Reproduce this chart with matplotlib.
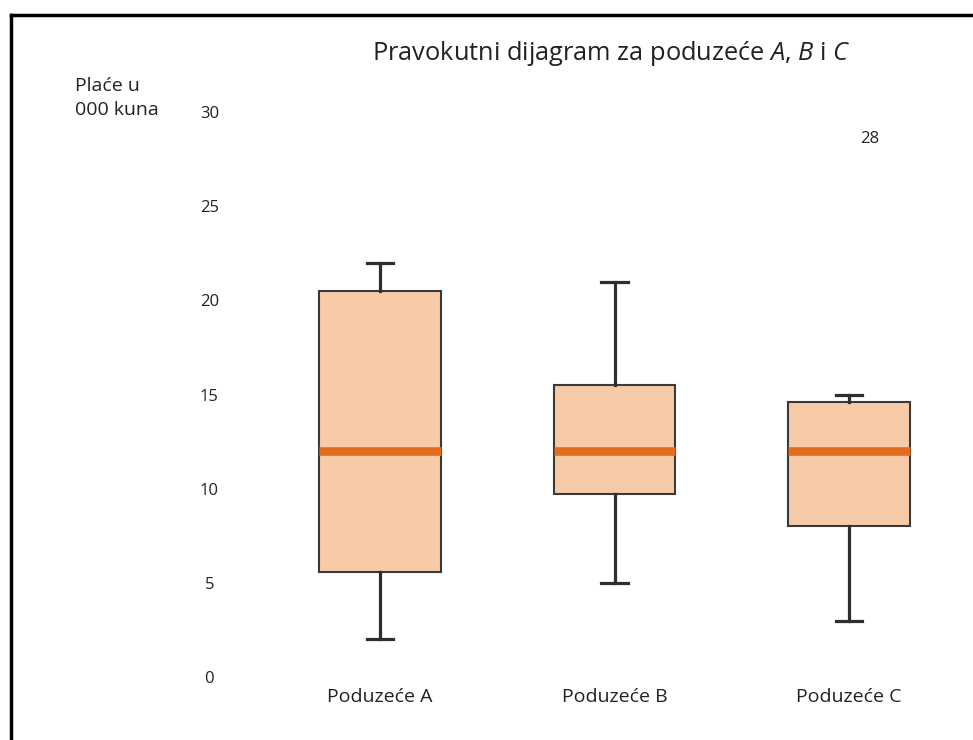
import matplotlib
matplotlib.use("Agg")
import matplotlib.pyplot as plt
from matplotlib.lines import Line2D

# ---- data ----
categories = ["Poduzeće A", "Poduzeće B", "Poduzeće C"]
q1 = [5.6, 9.7, 8.0]
medians = [12.0, 12.0, 12.0]
q3 = [20.5, 15.5, 14.6]
whis_low = [2.0, 5.0, 3.0]
whis_high = [22.0, 21.0, 15.0]
outlier_values = [None, None, 28]
yticks = [0, 5, 10, 15, 20, 25, 30]

plt.rcParams['font.family'] = ['Open Sans', 'DejaVu Sans']
plt.rcParams['mathtext.fontset'] = 'custom'
plt.rcParams['mathtext.it'] = 'Open Sans:italic'
plt.rcParams['mathtext.rm'] = 'Open Sans'

W, H = 973, 740
fig = plt.figure(figsize=(W / 100, H / 100), dpi=100)

# axes placement (pixel-based)
y0_pix, yunit = 677.0, 18.83
ylo, yhi = -0.5, 33.0
ax_bottom = 1 - (y0_pix - ylo * yunit) / H
ax_top = 1 - (y0_pix - yhi * yunit) / H
xunit = 234.5
x1_pix = 380.0
xlo, xhi = 0.3433, 3.5
ax_left = (x1_pix + (xlo - 1) * xunit) / W
ax_right = (x1_pix + (xhi - 1) * xunit) / W
ax = fig.add_axes([ax_left, ax_bottom, ax_right - ax_left, ax_top - ax_bottom])

stats = []
for i in range(len(categories)):
    stats.append(dict(label=categories[i], med=medians[i], q1=q1[i], q3=q3[i],
                      whislo=whis_low[i], whishi=whis_high[i], fliers=[]))

positions = list(range(1, len(categories) + 1))
dark = "#2e2e2e"
ax.bxp(stats, positions=positions, widths=0.516, capwidths=0.115,
       showfliers=False, patch_artist=True,
       boxprops=dict(facecolor="#F7CBA7", edgecolor="#3a3a3a", linewidth=1.5),
       whiskerprops=dict(color=dark, linewidth=2.3),
       capprops=dict(color=dark, linewidth=2.3),
       medianprops=dict(color="#E36C1E", linewidth=6.2, solid_capstyle="butt"))

for pos, ov in zip(positions, outlier_values):
    if ov is not None:
        ax.annotate(str(ov), xy=(pos, ov), xytext=(15, 7.5), textcoords="offset points",
                    ha="center", va="center", fontsize=12, color="#222222")

ax.set_xlim(xlo, xhi)
ax.set_ylim(ylo, yhi)
ax.set_yticks(yticks)
ax.set_yticklabels([str(t) for t in yticks], fontsize=12, color="#222222")
for lab in ax.get_yticklabels():
    lab.set_horizontalalignment("center")
ax.tick_params(axis="y", length=0, pad=12)
ax.set_xticks(positions)
ax.set_xticklabels(categories, fontsize=14, color="#222222")
ax.tick_params(axis="x", length=0, pad=1)
for s in ax.spines.values():
    s.set_visible(False)

fig.text(611 / W, 1 - 53 / H, r"Pravokutni dijagram za poduzeće $\mathit{A}$, $\mathit{B}$ i $\mathit{C}$",
         ha="center", va="center", fontsize=18.3, color="#222222")
fig.text(75 / W, 1 - 98 / H, "Plaće u\n000 kuna", ha="left", va="center",
         fontsize=14, color="#222222", linespacing=1.4)

# frame
fig.add_artist(Line2D([11 / W, 11 / W], [0, 1 - 15 / H], color="black", linewidth=2.5,
                      transform=fig.transFigure, solid_capstyle="projecting"))
fig.add_artist(Line2D([11 / W, 1], [1 - 15 / H, 1 - 15 / H], color="black", linewidth=2.5,
                      transform=fig.transFigure, solid_capstyle="projecting"))

fig.savefig("out.png", dpi=100)
